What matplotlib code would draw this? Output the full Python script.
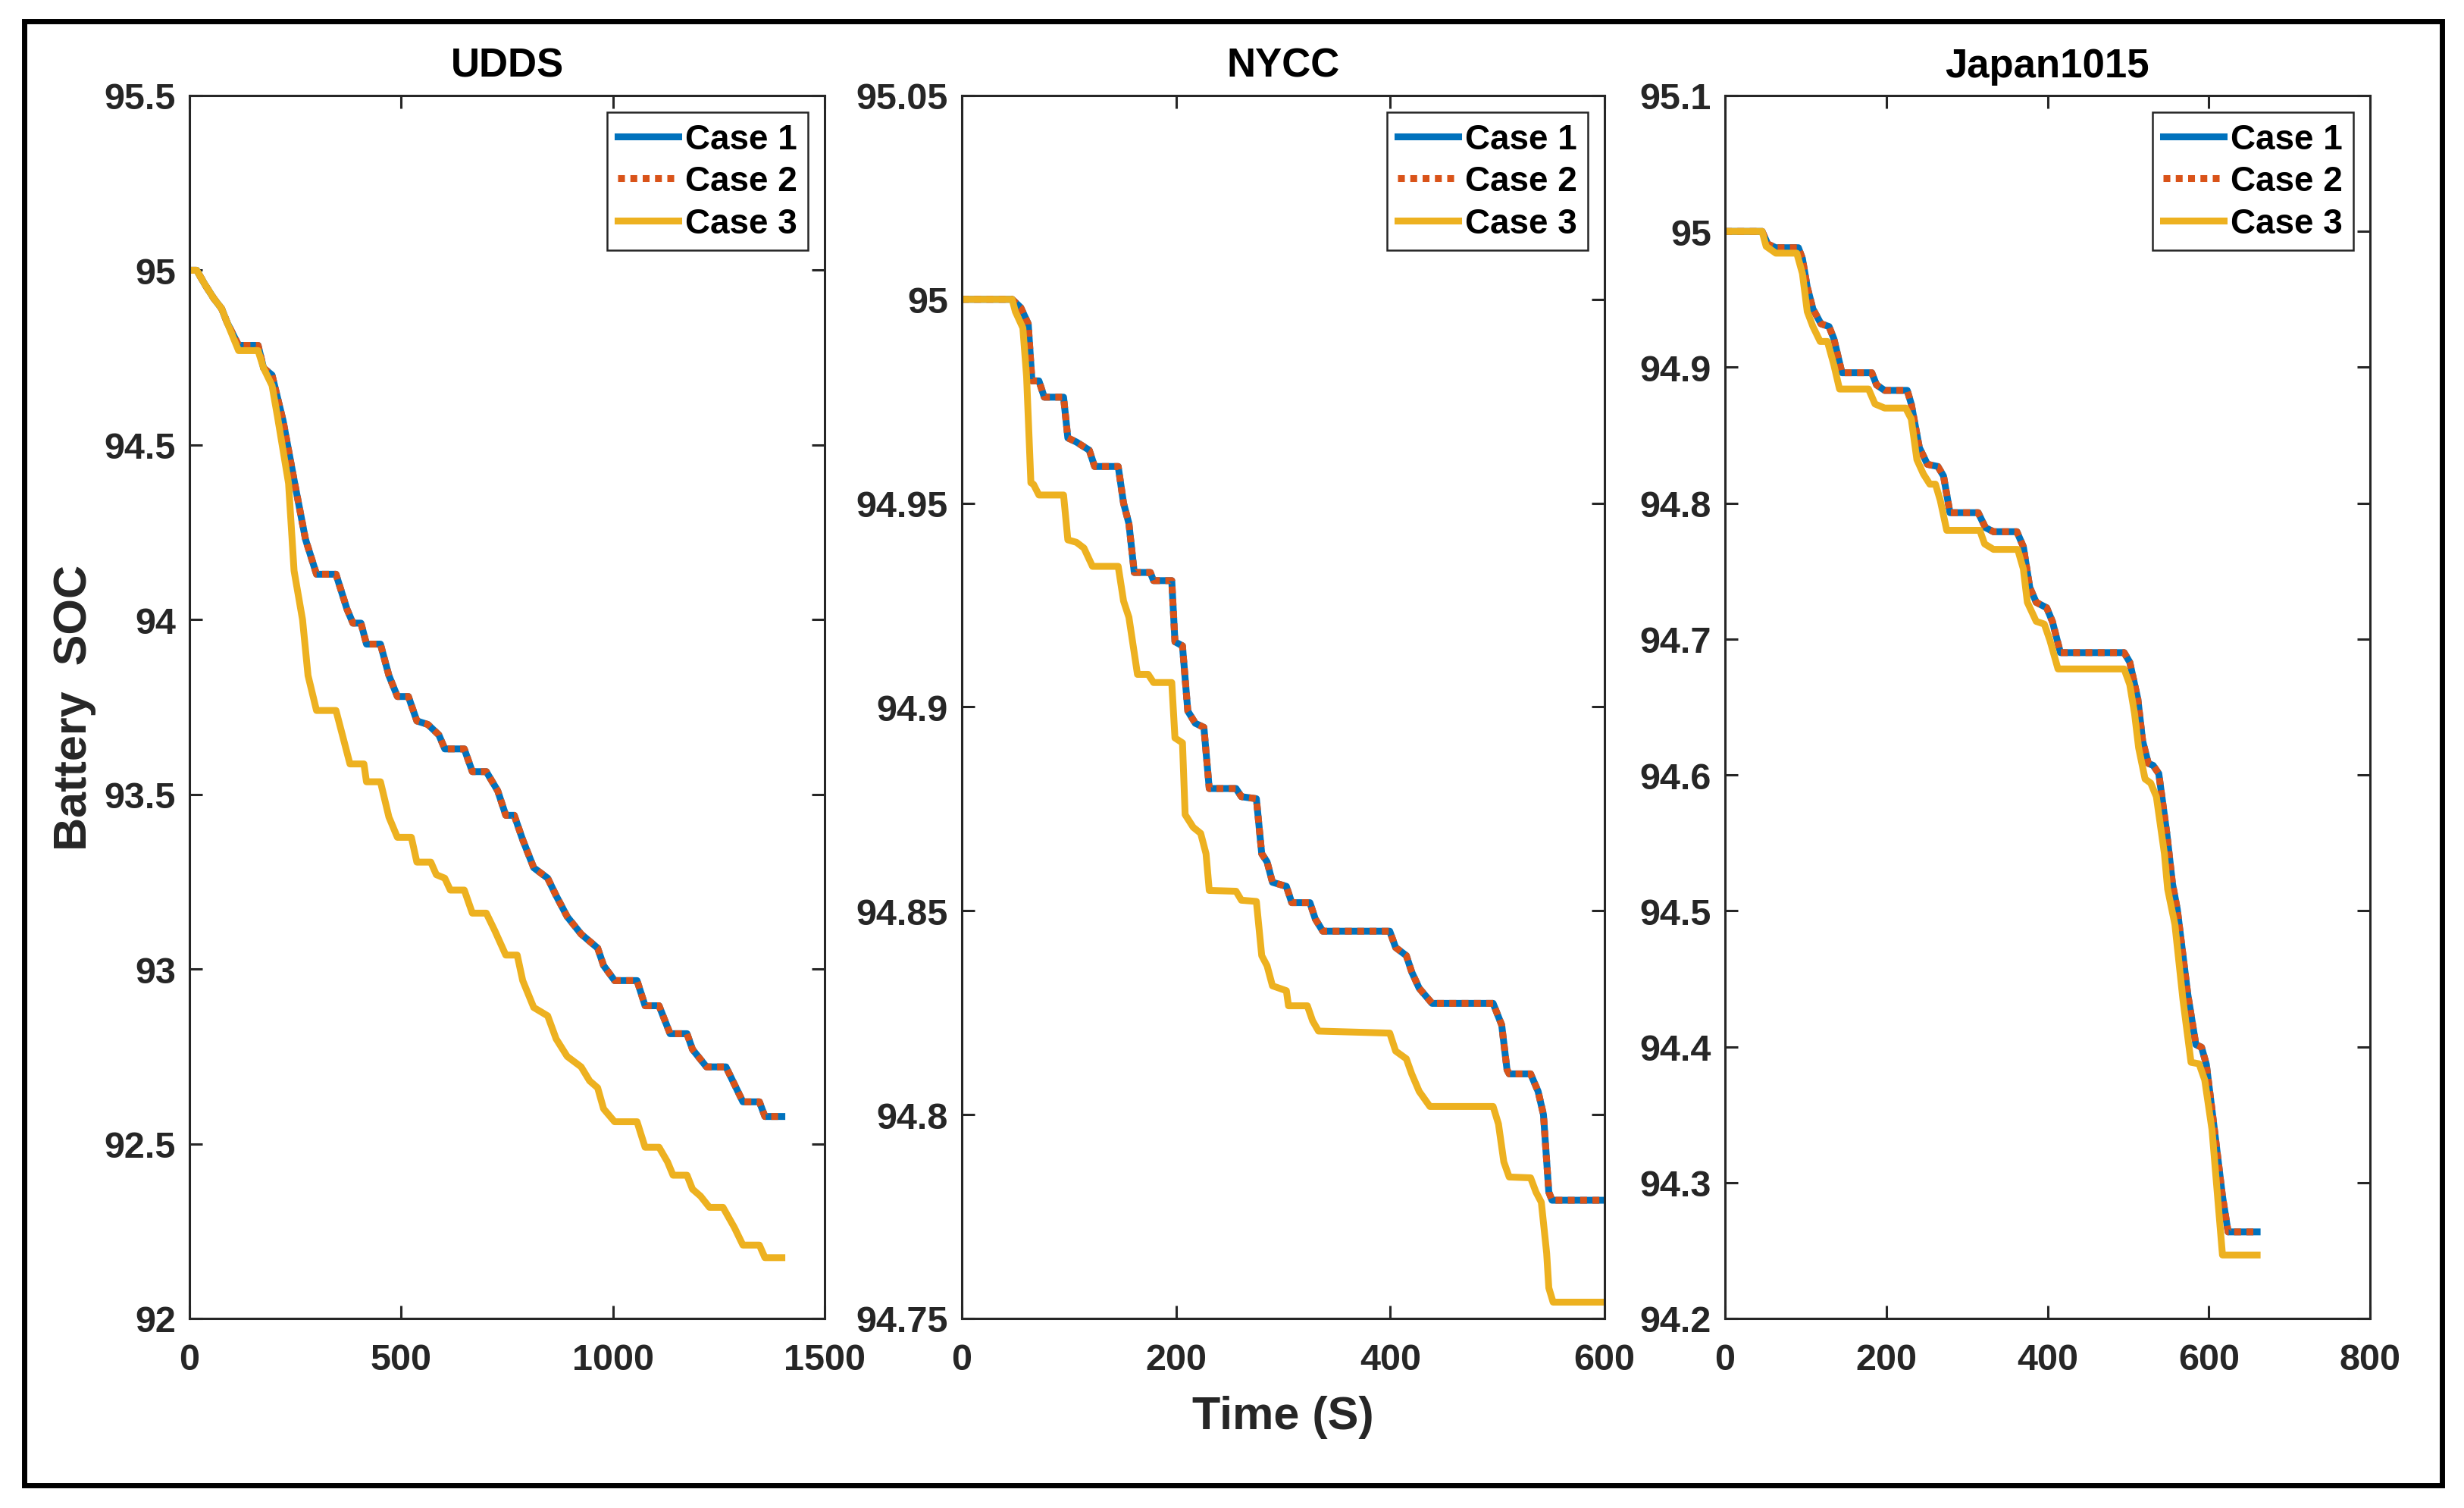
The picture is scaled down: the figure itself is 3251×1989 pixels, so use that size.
import matplotlib
matplotlib.use("Agg")
import matplotlib.pyplot as plt
from matplotlib.patches import Rectangle
from matplotlib.ticker import FuncFormatter

plt.rcParams['font.family'] = ['Liberation Sans', 'DejaVu Sans']
plt.rcParams['font.weight'] = 'bold'

# ---- data (time in s, SOC in %) ----
udds_t1 = [0, 17, 37, 57, 76, 89, 116, 162, 175, 195, 221, 247, 274, 300, 346,
           372, 386, 405, 418, 451, 471, 491, 517, 537, 563, 589, 603, 649, 668,
           701, 728, 747, 767, 787, 813, 846, 866, 892, 925, 964, 978, 1004,
           1057, 1076, 1109, 1135, 1175, 1188, 1221, 1267, 1287, 1307, 1346,
           1359, 1399]
udds_c1 = [95.0, 95.0, 94.958, 94.92, 94.89, 94.85, 94.785, 94.785, 94.72, 94.70,
           94.57, 94.40, 94.23, 94.13, 94.13, 94.03, 93.99, 93.99, 93.93, 93.93,
           93.84, 93.78, 93.78, 93.71, 93.70, 93.67, 93.63, 93.63, 93.565,
           93.565, 93.51, 93.44, 93.44, 93.37, 93.29, 93.26, 93.21, 93.15, 93.10,
           93.06, 93.01, 92.967, 92.967, 92.895, 92.895, 92.815, 92.815, 92.77,
           92.72, 92.72, 92.67, 92.62, 92.62, 92.578, 92.578]
udds_t3 = [0, 17, 37, 57, 76, 89, 116, 162, 175, 195, 208, 234, 247, 267, 280,
           300, 346, 379, 412, 418, 451, 471, 491, 524, 537, 570, 583, 603, 616,
           649, 668, 701, 721, 747, 774, 787, 813, 846, 866, 892, 925, 945, 964,
           978, 1004, 1057, 1076, 1109, 1129, 1142, 1175, 1188, 1207, 1228,
           1260, 1287, 1307, 1346, 1359, 1399]
udds_c3 = [95.0, 95.0, 94.958, 94.92, 94.89, 94.85, 94.77, 94.77, 94.72, 94.67,
           94.58, 94.39, 94.14, 94.0, 93.84, 93.74, 93.74, 93.587, 93.587,
           93.536, 93.536, 93.435, 93.377, 93.377, 93.306, 93.306, 93.27, 93.26,
           93.226, 93.226, 93.16, 93.16, 93.11, 93.04, 93.04, 92.967, 92.89,
           92.866, 92.80, 92.75, 92.72, 92.68, 92.66, 92.60, 92.563, 92.563,
           92.49, 92.49, 92.448, 92.41, 92.41, 92.37, 92.35, 92.318, 92.318,
           92.26, 92.21, 92.21, 92.174, 92.174]

nycc_t1 = [0, 47, 55, 62, 65.5, 72, 77, 95, 99, 107, 119, 124, 146, 151, 156,
           161, 176, 179, 196, 199, 206, 211, 218, 226, 231, 256, 261, 275, 280,
           285, 290, 303, 308, 325, 330, 337, 399.5, 405, 415, 420, 427, 439,
           496, 504, 509, 511, 531, 538, 543, 548, 551, 600]
nycc_c1 = [95.0, 95.0, 94.998, 94.994, 94.98, 94.98, 94.976, 94.976, 94.966,
           94.965, 94.963, 94.959, 94.959, 94.95, 94.945, 94.933, 94.933,
           94.931, 94.931, 94.916, 94.915, 94.899, 94.896, 94.895, 94.88, 94.88,
           94.878, 94.8775, 94.864, 94.862, 94.857, 94.856, 94.852, 94.852,
           94.848, 94.845, 94.845, 94.841, 94.839, 94.835, 94.831, 94.8273,
           94.8273, 94.822, 94.811, 94.81, 94.81, 94.8057, 94.80, 94.781,
           94.779, 94.779]
nycc_t3 = [0, 47, 50, 57, 60.5, 64.5, 67, 72, 95, 99, 107, 114, 122, 146, 151,
           156, 164, 174, 179, 196, 199, 206, 208.5, 216, 223, 228, 231, 256,
           261, 275, 280, 285, 290, 303, 305, 322.6, 327.5, 333, 399.5, 405,
           415, 420, 427, 437, 496, 501, 506, 511, 531, 536, 541, 546, 548, 552,
           600]
nycc_c3 = [95.0, 95.0, 94.997, 94.993, 94.981, 94.955, 94.9546, 94.952, 94.952,
           94.941, 94.9404, 94.939, 94.9345, 94.9345, 94.926, 94.922, 94.908,
           94.908, 94.906, 94.906, 94.8924, 94.8912, 94.8736, 94.8705, 94.869,
           94.864, 94.855, 94.8548, 94.8526, 94.8523, 94.839, 94.8365, 94.8316,
           94.8304, 94.8267, 94.8267, 94.823, 94.8205, 94.82, 94.8156, 94.8137,
           94.81, 94.8057, 94.802, 94.802, 94.7977, 94.7884, 94.7847, 94.7845,
           94.781, 94.7785, 94.766, 94.7575, 94.754, 94.754]

japan_t1 = [0, 46, 53, 63, 91, 96, 102, 109, 119, 129, 135, 145, 182, 188, 198,
            226, 231, 241, 251, 264, 271, 279, 314, 323, 333, 362, 370, 378,
            386, 399, 406, 416, 495, 502, 512, 518, 525, 531, 538, 548, 555,
            561, 574, 584, 591, 597, 607, 617, 624, 660]
japan_c1 = [95.0, 95.0, 94.9907, 94.988, 94.988, 94.98, 94.959, 94.943, 94.932,
            94.930, 94.921, 94.896, 94.896, 94.887, 94.883, 94.883, 94.873,
            94.841, 94.8286, 94.827, 94.82, 94.793, 94.793, 94.782, 94.779,
            94.779, 94.768, 94.738, 94.727, 94.723, 94.713, 94.69, 94.69,
            94.683, 94.656, 94.625, 94.6085, 94.607, 94.601, 94.557, 94.52,
            94.501, 94.4385, 94.4015, 94.3996, 94.387, 94.339, 94.290, 94.2637,
            94.2637]
japan_t3 = [0, 46, 51, 63, 89, 96, 102, 109, 118, 127, 135, 142, 178, 186, 198,
            224, 231, 238, 246, 254, 261, 267, 275, 316, 322, 333, 363, 370,
            375, 386, 396, 403, 413, 495, 502, 508, 513, 521, 528, 535, 545,
            549, 558, 568, 578, 588, 595, 604, 617, 660]
japan_c3 = [95.0, 95.0, 94.989, 94.984, 94.984, 94.969, 94.941, 94.930, 94.919,
            94.919, 94.9018, 94.884, 94.884, 94.873, 94.870, 94.870, 94.862,
            94.832, 94.8215, 94.814, 94.814, 94.802, 94.78, 94.78, 94.770,
            94.766, 94.766, 94.7516, 94.727, 94.713, 94.711, 94.699, 94.678,
            94.678, 94.6665, 94.645, 94.62, 94.597, 94.594, 94.584, 94.542,
            94.516, 94.49, 94.4345, 94.3885, 94.3874, 94.3755, 94.339, 94.2467,
            94.2467]

# case 2 lies exactly on case 1 in every panel
udds_c2 = udds_c1
nycc_c2 = nycc_c1
japan_c2 = japan_c1

titles = ['UDDS', 'NYCC', 'Japan1015']
xlims = [(0, 1500), (0, 600), (0, 800)]
xticks = [[0, 500, 1000, 1500], [0, 200, 400, 600], [0, 200, 400, 600, 800]]
ylims = [(92, 95.5), (94.75, 95.05), (94.2, 95.1)]
yticks = [[92, 92.5, 93, 93.5, 94, 94.5, 95, 95.5],
          [94.75, 94.8, 94.85, 94.9, 94.95, 95, 95.05],
          [94.2, 94.3, 94.4, 94.5, 94.6, 94.7, 94.8, 94.9, 95, 95.1]]
series = [
    (udds_t1, udds_c1, udds_c2, udds_t3, udds_c3),
    (nycc_t1, nycc_c1, nycc_c2, nycc_t3, nycc_c3),
    (japan_t1, japan_c1, japan_c2, japan_t3, japan_c3),
]
labels = ['Case 1', 'Case 2', 'Case 3']

BLUE = '#0072BD'
ORANGE = '#D95319'
YELLOW = '#EDB120'
DARK = '#262626'
W, H = 3251, 1990

fig = plt.figure(figsize=(W / 100, H / 100), dpi=100)

# axes boxes in pixels: (left, right), shared top/bottom
boxes = [(250, 1088), (1269, 2117), (2276, 3127)]
top, bottom = 127, 1740

fmt = FuncFormatter(lambda v, p: f'{round(v, 4):g}')

for i, (x0, x1) in enumerate(boxes):
    ax = fig.add_axes([x0 / W, (H - bottom) / H, (x1 - x0) / W, (bottom - top) / H])
    t1, c1, c2, t3, c3 = series[i]
    lw = 6.5
    ax.plot(t1, c1, color=BLUE, lw=lw, label=labels[0], solid_joinstyle='round')
    ax.plot(t1, c2, color=ORANGE, lw=lw, ls=(0, (1, 0.8)), dash_capstyle='butt',
            label=labels[1])
    ax.plot(t3, c3, color=YELLOW, lw=lw, label=labels[2], solid_joinstyle='round')

    ax.set_xlim(*xlims[i])
    ax.set_ylim(*ylims[i])
    ax.set_xticks(xticks[i])
    ax.set_yticks(yticks[i])
    ax.yaxis.set_major_formatter(fmt)
    ax.xaxis.set_major_formatter(fmt)

    ax.tick_params(direction='in', length=12, width=2.2, top=True, right=True,
                   labelsize=35, colors=DARK)
    ax.tick_params(axis='x', pad=23)
    ax.tick_params(axis='y', pad=13)
    for sp in ax.spines.values():
        sp.set_linewidth(2.2)
        sp.set_color(DARK)

    ax.set_title(titles[i], fontsize=38, fontweight='bold', pad=18, color='black')

    leg = ax.legend(loc='upper right', fontsize=33, fancybox=False, framealpha=1,
                    edgecolor=DARK, borderaxespad=0.48, handlelength=1.76,
                    handletextpad=0.2, labelspacing=0.25, borderpad=0.3)
    leg.get_frame().set_linewidth(1.8)
    for txt in leg.get_texts():
        txt.set_fontweight('bold')

fig.text(1693 / W, (H - 1885) / H, 'Time (S)', ha='center', va='baseline',
         fontsize=44, fontweight='bold', color=DARK)
fig.text(99 / W, (H - 933) / H, 'Battery  SOC', rotation=90, ha='center',
         va='center', fontsize=44, fontweight='bold', color=DARK)

# thick frame round the whole figure
fig.add_artist(Rectangle((32 / W, (H - 1959.5) / H), (3222 - 32) / W,
                         (1959.5 - 28.5) / H, transform=fig.transFigure,
                         fill=False, lw=5, edgecolor='black'))

fig.savefig('out.png', dpi=100)
